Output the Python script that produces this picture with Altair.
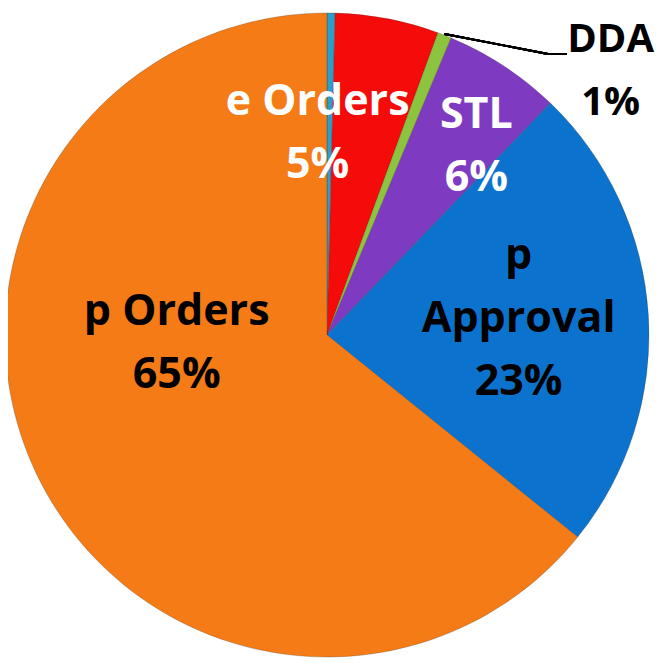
import altair as alt
import pandas as pd

# ---- data ----
categories = ["Other", "e Orders", "DDA", "STL", "p Approval", "p Orders"]
values = [0.4, 5.2, 0.7, 5.9, 23.6, 64.2]
display_names = ["", "e Orders", "DDA", "STL", "p\nApproval", "p Orders"]
pct_labels = ["", "5%", "1%", "6%", "23%", "65%"]
colors = ["#2A9FCB", "#F60B0B", "#8CC43F", "#7E3BC2", "#0B73CE", "#F47B16"]

df = pd.DataFrame({
    "idx": list(range(len(categories))),
    "category": categories,
    "value": values,
    "label": [n + "\n" + p for n, p in zip(display_names, pct_labels)],
})
total = sum(values)

W, H = 638, 654
R = 322
theta_scale = alt.Scale(domain=[0, total])

arcs = alt.Chart(df).mark_arc(
    outerRadius=R, stroke="#3a2a1a", strokeOpacity=0.25, strokeWidth=1
).encode(
    theta=alt.Theta("value:Q", stack=True, scale=theta_scale),
    color=alt.Color("category:N", scale=alt.Scale(domain=categories, range=colors), legend=None),
    order=alt.Order("idx:Q"),
)

# label layout (style only)
layout = {
    "e Orders": dict(radius=190, dx=-45, dy=-46, color="white", size=43),
    "STL": dict(radius=241, dx=17, dy=-19, color="white", size=43),
    "p Approval": dict(radius=192, dx=0, dy=-67, color="black", size=43),
    "p Orders": dict(radius=150, dx=-15, dy=-88, color="black", size=43),
    "DDA": dict(radius=322, dx=166, dy=5, color="black", size=40),
}

def label_layer(cat, radius, dx, dy, color, size):
    return alt.Chart(df).transform_window(
        cum="sum(value)", sort=[alt.SortField("idx")]
    ).transform_calculate(
        mid="datum.cum - datum.value / 2"
    ).transform_filter(
        alt.datum.category == cat
    ).mark_text(
        radius=radius, dx=dx, dy=dy, font="Open Sans", fontWeight="bold",
        fontSize=size, lineBreak="\n", lineHeight=63, align="center",
        baseline="middle", color=color,
    ).encode(
        theta=alt.Theta("mid:Q", scale=theta_scale),
        text="label:N",
    )

labels = [label_layer(c, **v) for c, v in layout.items()]

# leader line for DDA
lead1 = alt.Chart(df).mark_rule(color="black", strokeWidth=1.8).encode(
    x=alt.value(436.5), y=alt.value(26), x2=alt.value(540), y2=alt.value(46)
)
lead2 = alt.Chart(df).mark_rule(color="black", strokeWidth=1.8).encode(
    x=alt.value(540), y=alt.value(46), x2=alt.value(559), y2=alt.value(46)
)

chart = alt.layer(arcs, lead1, lead2, *labels).properties(
    width=W, height=H,
    autosize=alt.AutoSizeParams(type="none"),
    padding={"left": 0, "top": 0, "right": 15, "bottom": 0},
).configure_view(stroke=None)

chart.save("out.html", embed_options={"renderer": "svg", "actions": False})
